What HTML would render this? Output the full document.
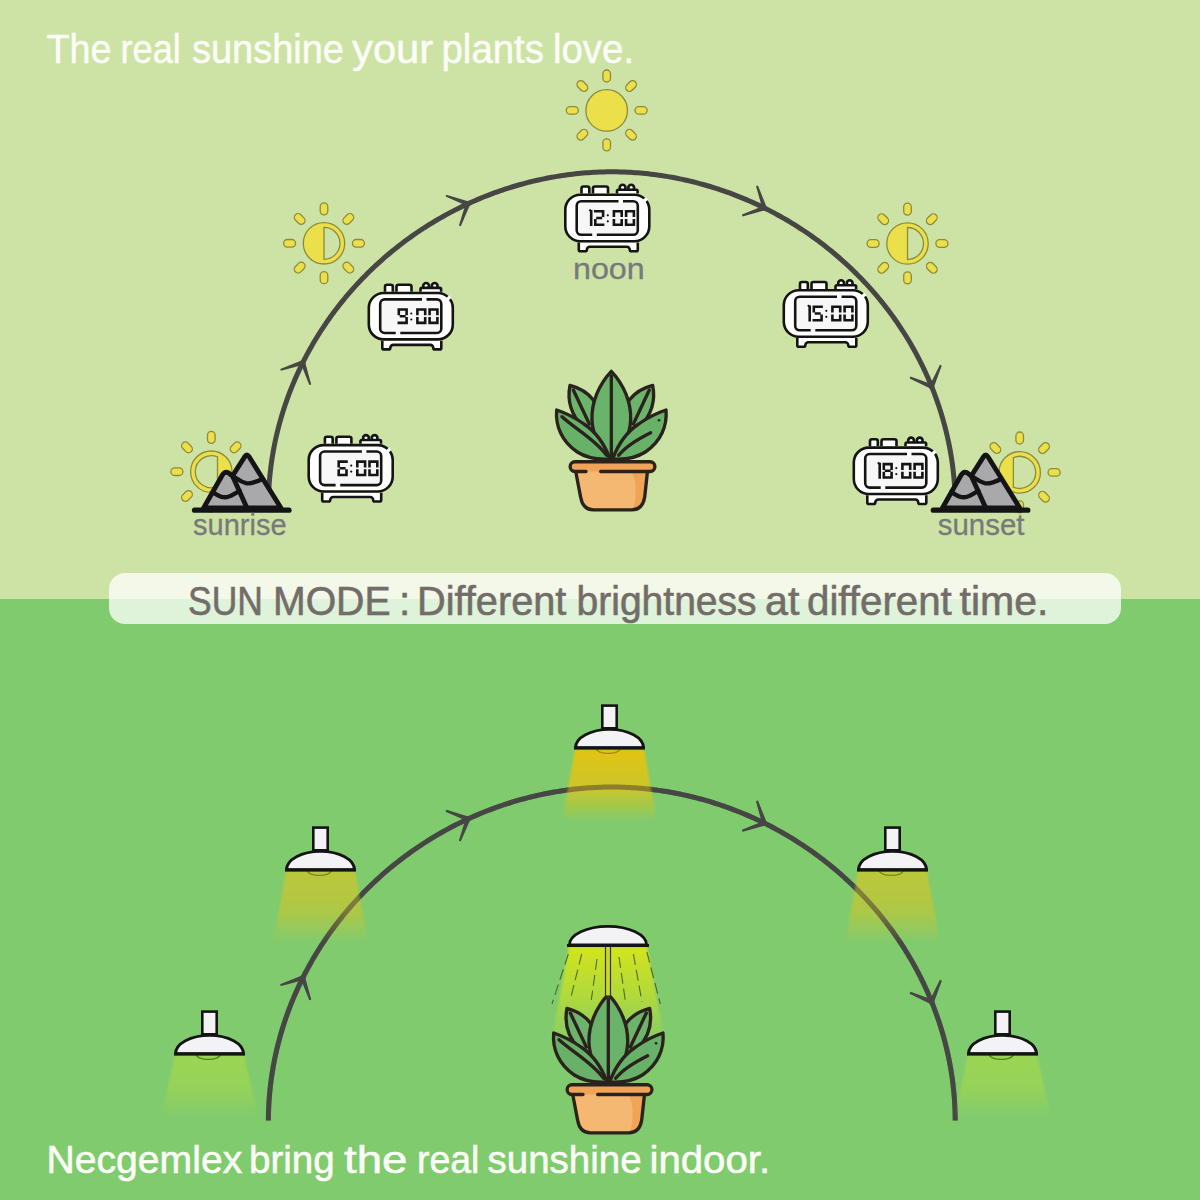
<!DOCTYPE html>
<html><head><meta charset="utf-8"><style>
html,body{margin:0;padding:0;background:#80cb6e;}
svg{display:block;}
</style></head><body>
<svg width="1200" height="1200" viewBox="0 0 1200 1200">
<defs><filter id="soft" x="-20%" y="-20%" width="140%" height="140%"><feGaussianBlur stdDeviation="1.3"/></filter></defs>
<rect x="0" y="0" width="1200" height="599" fill="#cde3a5"/>
<rect x="0" y="599" width="1200" height="601" fill="#80cb6e"/>

<text x="46.50" y="62.6" font-family='"Liberation Sans", sans-serif' font-size="40.5" fill="#fbfdf6" stroke="#fbfdf6" stroke-width="0.5" textLength="65.01" lengthAdjust="spacingAndGlyphs">The</text><text x="120.47" y="62.6" font-family='"Liberation Sans", sans-serif' font-size="40.5" fill="#fbfdf6" stroke="#fbfdf6" stroke-width="0.5" textLength="60.36" lengthAdjust="spacingAndGlyphs">real</text><text x="192.03" y="62.6" font-family='"Liberation Sans", sans-serif' font-size="40.5" fill="#fbfdf6" stroke="#fbfdf6" stroke-width="0.5" textLength="151.95" lengthAdjust="spacingAndGlyphs">sunshine</text><text x="352.00" y="62.6" font-family='"Liberation Sans", sans-serif' font-size="40.5" fill="#fbfdf6" stroke="#fbfdf6" stroke-width="0.5" textLength="81.23" lengthAdjust="spacingAndGlyphs">your</text><text x="441.52" y="62.6" font-family='"Liberation Sans", sans-serif' font-size="40.5" fill="#fbfdf6" stroke="#fbfdf6" stroke-width="0.5" textLength="102.45" lengthAdjust="spacingAndGlyphs">plants</text><text x="552.95" y="62.6" font-family='"Liberation Sans", sans-serif' font-size="40.5" fill="#fbfdf6" stroke="#fbfdf6" stroke-width="0.5" textLength="81.18" lengthAdjust="spacingAndGlyphs">love.</text>
<path d="M268.40,505.30 L268.41,502.87 L268.44,500.38 L268.50,497.88 L268.57,495.36 L268.67,492.84 L268.79,490.30 L268.93,487.77 L269.09,485.22 L269.27,482.68 L269.47,480.13 L269.70,477.58 L269.95,475.02 L270.22,472.47 L270.51,469.91 L270.82,467.36 L271.15,464.80 L271.50,462.25 L271.88,459.69 L272.27,457.14 L272.69,454.58 L273.13,452.03 L273.59,449.48 L274.07,446.93 L274.57,444.38 L275.10,441.84 L275.64,439.29 L276.21,436.75 L276.79,434.22 L277.40,431.68 L278.03,429.15 L278.68,426.62 L279.35,424.10 L280.04,421.58 L280.75,419.07 L281.49,416.55 L282.24,414.05 L283.01,411.55 L283.81,409.05 L284.62,406.56 L285.46,404.07 L286.31,401.59 L287.19,399.11 L288.08,396.64 L289.00,394.18 L289.94,391.72 L290.89,389.27 L291.87,386.82 L292.87,384.38 L293.89,381.95 L294.92,379.53 L295.98,377.11 L297.05,374.70 L298.15,372.30 L299.27,369.90 L300.40,367.52 L301.56,365.14 L302.73,362.77 L303.92,360.40 L305.13,358.05 L306.37,355.70 L307.62,353.37 L308.89,351.04 L310.17,348.72 L311.48,346.41 L312.81,344.11 L314.15,341.82 L315.51,339.54 L316.90,337.27 L318.30,335.01 L319.71,332.76 L321.15,330.52 L322.60,328.29 L324.08,326.07 L325.57,323.87 L327.07,321.67 L328.60,319.48 L330.14,317.31 L331.70,315.14 L333.28,312.99 L334.88,310.85 L336.49,308.73 L338.12,306.61 L339.77,304.51 L341.43,302.41 L343.11,300.33 L344.81,298.27 L346.52,296.21 L348.25,294.17 L350.00,292.14 L351.76,290.13 L353.54,288.13 L355.34,286.14 L357.15,284.16 L358.97,282.20 L360.82,280.25 L362.67,278.32 L364.55,276.40 L366.44,274.49 L368.34,272.60 L370.26,270.72 L372.19,268.86 L374.14,267.01 L376.10,265.18 L378.08,263.36 L380.07,261.55 L382.08,259.76 L384.10,257.99 L386.13,256.23 L388.18,254.49 L390.24,252.76 L392.32,251.05 L394.40,249.35 L396.51,247.67 L398.62,246.01 L400.75,244.36 L402.89,242.73 L405.04,241.11 L407.21,239.51 L409.39,237.93 L411.58,236.36 L413.78,234.81 L416.00,233.28 L418.23,231.76 L420.47,230.26 L422.72,228.78 L424.98,227.32 L427.25,225.87 L429.54,224.44 L431.83,223.03 L434.14,221.63 L436.46,220.26 L438.78,218.90 L441.12,217.56 L443.47,216.23 L445.83,214.93 L448.20,213.64 L450.57,212.37 L452.96,211.12 L455.36,209.89 L457.76,208.67 L460.18,207.48 L462.60,206.30 L465.03,205.14 L467.48,204.00 L469.93,202.88 L472.38,201.78 L474.85,200.69 L477.32,199.63 L479.81,198.58 L482.29,197.56 L484.79,196.55 L487.30,195.56 L489.81,194.60 L492.32,193.65 L494.85,192.72 L497.38,191.81 L499.92,190.92 L502.46,190.05 L505.01,189.20 L507.56,188.36 L510.13,187.55 L512.69,186.76 L515.26,185.99 L517.84,185.24 L520.42,184.51 L523.01,183.80 L525.60,183.11 L528.19,182.43 L530.79,181.78 L533.39,181.15 L536.00,180.54 L538.61,179.95 L541.22,179.38 L543.83,178.83 L546.45,178.30 L549.07,177.80 L551.70,177.31 L554.32,176.84 L556.95,176.39 L559.58,175.97 L562.21,175.56 L564.84,175.18 L567.47,174.81 L570.10,174.47 L572.73,174.15 L575.36,173.84 L578.00,173.56 L580.63,173.30 L583.25,173.06 L585.88,172.84 L588.51,172.65 L591.13,172.47 L593.75,172.31 L596.36,172.18 L598.97,172.06 L601.57,171.97 L604.16,171.89 L606.74,171.84 L609.29,171.81 L611.80,171.80 L614.31,171.81 L616.86,171.84 L619.44,171.89 L622.03,171.97 L624.63,172.06 L627.24,172.18 L629.85,172.31 L632.47,172.47 L635.09,172.65 L637.72,172.84 L640.35,173.06 L642.97,173.30 L645.60,173.56 L648.24,173.84 L650.87,174.15 L653.50,174.47 L656.13,174.81 L658.76,175.18 L661.39,175.56 L664.02,175.97 L666.65,176.39 L669.28,176.84 L671.90,177.31 L674.53,177.80 L677.15,178.30 L679.77,178.83 L682.38,179.38 L684.99,179.95 L687.60,180.54 L690.21,181.15 L692.81,181.78 L695.41,182.43 L698.00,183.11 L700.59,183.80 L703.18,184.51 L705.76,185.24 L708.34,185.99 L710.91,186.76 L713.47,187.55 L716.04,188.36 L718.59,189.20 L721.14,190.05 L723.68,190.92 L726.22,191.81 L728.75,192.72 L731.28,193.65 L733.79,194.60 L736.30,195.56 L738.81,196.55 L741.31,197.56 L743.79,198.58 L746.28,199.63 L748.75,200.69 L751.22,201.78 L753.67,202.88 L756.12,204.00 L758.57,205.14 L761.00,206.30 L763.42,207.48 L765.84,208.67 L768.24,209.89 L770.64,211.12 L773.03,212.37 L775.40,213.64 L777.77,214.93 L780.13,216.23 L782.48,217.56 L784.82,218.90 L787.14,220.26 L789.46,221.63 L791.77,223.03 L794.06,224.44 L796.35,225.87 L798.62,227.32 L800.88,228.78 L803.13,230.26 L805.37,231.76 L807.60,233.28 L809.82,234.81 L812.02,236.36 L814.21,237.93 L816.39,239.51 L818.56,241.11 L820.71,242.73 L822.85,244.36 L824.98,246.01 L827.09,247.67 L829.20,249.35 L831.28,251.05 L833.36,252.76 L835.42,254.49 L837.47,256.23 L839.50,257.99 L841.52,259.76 L843.53,261.55 L845.52,263.36 L847.50,265.18 L849.46,267.01 L851.41,268.86 L853.34,270.72 L855.26,272.60 L857.16,274.49 L859.05,276.40 L860.93,278.32 L862.78,280.25 L864.63,282.20 L866.45,284.16 L868.26,286.14 L870.06,288.13 L871.84,290.13 L873.60,292.14 L875.35,294.17 L877.08,296.21 L878.79,298.27 L880.49,300.33 L882.17,302.41 L883.83,304.51 L885.48,306.61 L887.11,308.73 L888.72,310.85 L890.32,312.99 L891.90,315.14 L893.46,317.31 L895.00,319.48 L896.53,321.67 L898.03,323.87 L899.52,326.07 L901.00,328.29 L902.45,330.52 L903.89,332.76 L905.30,335.01 L906.70,337.27 L908.09,339.54 L909.45,341.82 L910.79,344.11 L912.12,346.41 L913.43,348.72 L914.71,351.04 L915.98,353.37 L917.23,355.70 L918.47,358.05 L919.68,360.40 L920.87,362.77 L922.04,365.14 L923.20,367.52 L924.33,369.90 L925.45,372.30 L926.55,374.70 L927.62,377.11 L928.68,379.53 L929.71,381.95 L930.73,384.38 L931.73,386.82 L932.71,389.27 L933.66,391.72 L934.60,394.18 L935.52,396.64 L936.41,399.11 L937.29,401.59 L938.14,404.07 L938.98,406.56 L939.79,409.05 L940.59,411.55 L941.36,414.05 L942.11,416.55 L942.85,419.07 L943.56,421.58 L944.25,424.10 L944.92,426.62 L945.57,429.15 L946.20,431.68 L946.81,434.22 L947.39,436.75 L947.96,439.29 L948.50,441.84 L949.03,444.38 L949.53,446.93 L950.01,449.48 L950.47,452.03 L950.91,454.58 L951.33,457.14 L951.72,459.69 L952.10,462.25 L952.45,464.80 L952.78,467.36 L953.09,469.91 L953.38,472.47 L953.65,475.02 L953.90,477.58 L954.13,480.13 L954.33,482.68 L954.51,485.22 L954.67,487.77 L954.81,490.30 L954.93,492.84 L955.03,495.36 L955.10,497.88 L955.16,500.38 L955.19,502.87 L955.20,505.30" fill="none" stroke="#464644" stroke-width="5" stroke-linejoin="round"/><path d="M302.14,360.32 L280.25,368.96 L280.88,370.86 L303.59,364.68 Z" fill="#464644"/><path d="M300.68,363.23 L309.32,385.12 L311.22,384.49 L305.04,361.77 Z" fill="#464644"/><circle cx="302.86" cy="362.50" r="2.6" fill="#464644"/><path d="M468.80,201.60 L446.30,194.67 L445.61,196.55 L467.20,205.92 Z" fill="#464644"/><path d="M465.84,202.96 L458.92,225.45 L460.79,226.15 L470.16,204.56 Z" fill="#464644"/><circle cx="468.00" cy="203.76" r="2.6" fill="#464644"/><path d="M766.68,207.27 L757.92,185.42 L756.03,186.06 L762.32,208.74 Z" fill="#464644"/><path d="M763.76,205.83 L741.92,214.59 L742.56,216.48 L765.24,210.19 Z" fill="#464644"/><circle cx="764.50" cy="208.01" r="2.6" fill="#464644"/><path d="M933.80,387.60 L941.77,365.45 L939.93,364.67 L929.56,385.80 Z" fill="#464644"/><path d="M932.58,384.58 L910.43,376.61 L909.65,378.45 L930.78,388.82 Z" fill="#464644"/><circle cx="931.68" cy="386.70" r="2.6" fill="#464644"/>
<rect x="-3.8" y="-40.4" width="7.6" height="12" rx="3.8" ry="3.8" transform="translate(606.7,110.4) rotate(0)" fill="#ebdf4a" stroke="#8d8a3e" stroke-width="1.3"/><rect x="-3.8" y="-40.4" width="7.6" height="12" rx="3.8" ry="3.8" transform="translate(606.7,110.4) rotate(45)" fill="#ebdf4a" stroke="#8d8a3e" stroke-width="1.3"/><rect x="-3.8" y="-40.4" width="7.6" height="12" rx="3.8" ry="3.8" transform="translate(606.7,110.4) rotate(90)" fill="#ebdf4a" stroke="#8d8a3e" stroke-width="1.3"/><rect x="-3.8" y="-40.4" width="7.6" height="12" rx="3.8" ry="3.8" transform="translate(606.7,110.4) rotate(135)" fill="#ebdf4a" stroke="#8d8a3e" stroke-width="1.3"/><rect x="-3.8" y="-40.4" width="7.6" height="12" rx="3.8" ry="3.8" transform="translate(606.7,110.4) rotate(180)" fill="#ebdf4a" stroke="#8d8a3e" stroke-width="1.3"/><rect x="-3.8" y="-40.4" width="7.6" height="12" rx="3.8" ry="3.8" transform="translate(606.7,110.4) rotate(225)" fill="#ebdf4a" stroke="#8d8a3e" stroke-width="1.3"/><rect x="-3.8" y="-40.4" width="7.6" height="12" rx="3.8" ry="3.8" transform="translate(606.7,110.4) rotate(270)" fill="#ebdf4a" stroke="#8d8a3e" stroke-width="1.3"/><rect x="-3.8" y="-40.4" width="7.6" height="12" rx="3.8" ry="3.8" transform="translate(606.7,110.4) rotate(315)" fill="#ebdf4a" stroke="#8d8a3e" stroke-width="1.3"/><circle cx="606.7" cy="110.4" r="20.8" fill="#ebdf4a" stroke="#8d8a3e" stroke-width="1.3"/>
<rect x="-3.8" y="-40.4" width="7.6" height="12" rx="3.8" ry="3.8" transform="translate(324,243.3) rotate(0)" fill="#ebdf4a" stroke="#8d8a3e" stroke-width="1.3"/><rect x="-3.8" y="-40.4" width="7.6" height="12" rx="3.8" ry="3.8" transform="translate(324,243.3) rotate(45)" fill="#ebdf4a" stroke="#8d8a3e" stroke-width="1.3"/><rect x="-3.8" y="-40.4" width="7.6" height="12" rx="3.8" ry="3.8" transform="translate(324,243.3) rotate(90)" fill="#ebdf4a" stroke="#8d8a3e" stroke-width="1.3"/><rect x="-3.8" y="-40.4" width="7.6" height="12" rx="3.8" ry="3.8" transform="translate(324,243.3) rotate(135)" fill="#ebdf4a" stroke="#8d8a3e" stroke-width="1.3"/><rect x="-3.8" y="-40.4" width="7.6" height="12" rx="3.8" ry="3.8" transform="translate(324,243.3) rotate(180)" fill="#ebdf4a" stroke="#8d8a3e" stroke-width="1.3"/><rect x="-3.8" y="-40.4" width="7.6" height="12" rx="3.8" ry="3.8" transform="translate(324,243.3) rotate(225)" fill="#ebdf4a" stroke="#8d8a3e" stroke-width="1.3"/><rect x="-3.8" y="-40.4" width="7.6" height="12" rx="3.8" ry="3.8" transform="translate(324,243.3) rotate(270)" fill="#ebdf4a" stroke="#8d8a3e" stroke-width="1.3"/><rect x="-3.8" y="-40.4" width="7.6" height="12" rx="3.8" ry="3.8" transform="translate(324,243.3) rotate(315)" fill="#ebdf4a" stroke="#8d8a3e" stroke-width="1.3"/><g transform="translate(324,243.3)"><circle cx="0" cy="0" r="20.7" fill="#ebdf4a" stroke="#8d8a3e" stroke-width="1.3"/><path d="M0,-16.00 A16,16 0 0 1 0,16.00 Z" fill="#cde3a5" stroke="#8d8a3e" stroke-width="1.3"/></g>
<rect x="-3.8" y="-40.4" width="7.6" height="12" rx="3.8" ry="3.8" transform="translate(907.5,243.5) rotate(0)" fill="#ebdf4a" stroke="#8d8a3e" stroke-width="1.3"/><rect x="-3.8" y="-40.4" width="7.6" height="12" rx="3.8" ry="3.8" transform="translate(907.5,243.5) rotate(45)" fill="#ebdf4a" stroke="#8d8a3e" stroke-width="1.3"/><rect x="-3.8" y="-40.4" width="7.6" height="12" rx="3.8" ry="3.8" transform="translate(907.5,243.5) rotate(90)" fill="#ebdf4a" stroke="#8d8a3e" stroke-width="1.3"/><rect x="-3.8" y="-40.4" width="7.6" height="12" rx="3.8" ry="3.8" transform="translate(907.5,243.5) rotate(135)" fill="#ebdf4a" stroke="#8d8a3e" stroke-width="1.3"/><rect x="-3.8" y="-40.4" width="7.6" height="12" rx="3.8" ry="3.8" transform="translate(907.5,243.5) rotate(180)" fill="#ebdf4a" stroke="#8d8a3e" stroke-width="1.3"/><rect x="-3.8" y="-40.4" width="7.6" height="12" rx="3.8" ry="3.8" transform="translate(907.5,243.5) rotate(225)" fill="#ebdf4a" stroke="#8d8a3e" stroke-width="1.3"/><rect x="-3.8" y="-40.4" width="7.6" height="12" rx="3.8" ry="3.8" transform="translate(907.5,243.5) rotate(270)" fill="#ebdf4a" stroke="#8d8a3e" stroke-width="1.3"/><rect x="-3.8" y="-40.4" width="7.6" height="12" rx="3.8" ry="3.8" transform="translate(907.5,243.5) rotate(315)" fill="#ebdf4a" stroke="#8d8a3e" stroke-width="1.3"/><g transform="translate(907.5,243.5)"><circle cx="0" cy="0" r="20.7" fill="#ebdf4a" stroke="#8d8a3e" stroke-width="1.3"/><path d="M0,-16.00 A16,16 0 0 1 0,16.00 Z" fill="#cde3a5" stroke="#8d8a3e" stroke-width="1.3"/></g>
<rect x="-3.8" y="-40.4" width="7.6" height="12" rx="3.8" ry="3.8" transform="translate(211.3,471.7) rotate(0)" fill="#ebdf4a" stroke="#8d8a3e" stroke-width="1.3"/><rect x="-3.8" y="-40.4" width="7.6" height="12" rx="3.8" ry="3.8" transform="translate(211.3,471.7) rotate(45)" fill="#ebdf4a" stroke="#8d8a3e" stroke-width="1.3"/><rect x="-3.8" y="-40.4" width="7.6" height="12" rx="3.8" ry="3.8" transform="translate(211.3,471.7) rotate(90)" fill="#ebdf4a" stroke="#8d8a3e" stroke-width="1.3"/><rect x="-3.8" y="-40.4" width="7.6" height="12" rx="3.8" ry="3.8" transform="translate(211.3,471.7) rotate(135)" fill="#ebdf4a" stroke="#8d8a3e" stroke-width="1.3"/><rect x="-3.8" y="-40.4" width="7.6" height="12" rx="3.8" ry="3.8" transform="translate(211.3,471.7) rotate(180)" fill="#ebdf4a" stroke="#8d8a3e" stroke-width="1.3"/><rect x="-3.8" y="-40.4" width="7.6" height="12" rx="3.8" ry="3.8" transform="translate(211.3,471.7) rotate(225)" fill="#ebdf4a" stroke="#8d8a3e" stroke-width="1.3"/><rect x="-3.8" y="-40.4" width="7.6" height="12" rx="3.8" ry="3.8" transform="translate(211.3,471.7) rotate(270)" fill="#ebdf4a" stroke="#8d8a3e" stroke-width="1.3"/><rect x="-3.8" y="-40.4" width="7.6" height="12" rx="3.8" ry="3.8" transform="translate(211.3,471.7) rotate(315)" fill="#ebdf4a" stroke="#8d8a3e" stroke-width="1.3"/><g transform="translate(211.3,471.7) scale(-1,1)"><circle cx="0" cy="0" r="20.7" fill="#ebdf4a" stroke="#8d8a3e" stroke-width="1.3"/><path d="M-6.2,-14.75 A16,16 0 1 1 -6.2,14.75 Z" fill="#cde3a5" stroke="#8d8a3e" stroke-width="1.3"/></g>
<rect x="-3.8" y="-40.4" width="7.6" height="12" rx="3.8" ry="3.8" transform="translate(1019.7,472.4) rotate(0)" fill="#ebdf4a" stroke="#8d8a3e" stroke-width="1.3"/><rect x="-3.8" y="-40.4" width="7.6" height="12" rx="3.8" ry="3.8" transform="translate(1019.7,472.4) rotate(45)" fill="#ebdf4a" stroke="#8d8a3e" stroke-width="1.3"/><rect x="-3.8" y="-40.4" width="7.6" height="12" rx="3.8" ry="3.8" transform="translate(1019.7,472.4) rotate(90)" fill="#ebdf4a" stroke="#8d8a3e" stroke-width="1.3"/><rect x="-3.8" y="-40.4" width="7.6" height="12" rx="3.8" ry="3.8" transform="translate(1019.7,472.4) rotate(135)" fill="#ebdf4a" stroke="#8d8a3e" stroke-width="1.3"/><rect x="-3.8" y="-40.4" width="7.6" height="12" rx="3.8" ry="3.8" transform="translate(1019.7,472.4) rotate(180)" fill="#ebdf4a" stroke="#8d8a3e" stroke-width="1.3"/><rect x="-3.8" y="-40.4" width="7.6" height="12" rx="3.8" ry="3.8" transform="translate(1019.7,472.4) rotate(225)" fill="#ebdf4a" stroke="#8d8a3e" stroke-width="1.3"/><rect x="-3.8" y="-40.4" width="7.6" height="12" rx="3.8" ry="3.8" transform="translate(1019.7,472.4) rotate(270)" fill="#ebdf4a" stroke="#8d8a3e" stroke-width="1.3"/><rect x="-3.8" y="-40.4" width="7.6" height="12" rx="3.8" ry="3.8" transform="translate(1019.7,472.4) rotate(315)" fill="#ebdf4a" stroke="#8d8a3e" stroke-width="1.3"/><g transform="translate(1019.7,472.4)"><circle cx="0" cy="0" r="20.7" fill="#ebdf4a" stroke="#8d8a3e" stroke-width="1.3"/><path d="M-6.3,-14.71 A16,16 0 1 1 -6.3,14.71 Z" fill="#cde3a5" stroke="#8d8a3e" stroke-width="1.3"/></g>
<g transform="translate(0.0,0.0)" stroke="#141414" stroke-width="4.8" stroke-linejoin="round" stroke-linecap="round" fill="#a9a9ab"><path d="M212,508 L244.8,456.6 Q246.9,453.4 249,456.6 L281,508 Z"/><path d="M203.6,508 L222.5,474.8 Q225,470.8 228.5,472.8 L232.6,476.2 L247,508 Z"/><path d="M212.5,492 C216.5,494.5 220,497.3 225,497.3 C230,497.3 234,493.5 239.7,491" fill="none" stroke-width="4.4"/><path d="M234,476.8 C237,478.5 240,481.7 246,483.2 C251,484.2 256,482 262.4,478.9" fill="none" stroke-width="4.4"/><path d="M194.5,510.2 H289" stroke-width="5.2"/></g>
<g transform="translate(738.8,0.0)" stroke="#141414" stroke-width="4.8" stroke-linejoin="round" stroke-linecap="round" fill="#a9a9ab"><path d="M212,508 L244.8,456.6 Q246.9,453.4 249,456.6 L281,508 Z"/><path d="M203.6,508 L222.5,474.8 Q225,470.8 228.5,472.8 L232.6,476.2 L247,508 Z"/><path d="M212.5,492 C216.5,494.5 220,497.3 225,497.3 C230,497.3 234,493.5 239.7,491" fill="none" stroke-width="4.4"/><path d="M234,476.8 C237,478.5 240,481.7 246,483.2 C251,484.2 256,482 262.4,478.9" fill="none" stroke-width="4.4"/><path d="M194.5,510.2 H289" stroke-width="5.2"/></g>
<g transform="translate(564.0,193.5)"><path d="M17.5,0 V-5 a2,2 0 0 1 2,-2 h3.8 a2,2 0 0 1 2,2 V0" fill="#fff" stroke="#141414" stroke-width="2.6"/><path d="M29,0 V-5 a2,2 0 0 1 2,-2 h11 a2,2 0 0 1 2,2 V0" fill="#fff" stroke="#141414" stroke-width="2.6"/><circle cx="58.6" cy="-5.8" r="2.9" fill="#fff" stroke="#141414" stroke-width="2.6"/><circle cx="67.2" cy="-5.8" r="2.9" fill="#fff" stroke="#141414" stroke-width="2.6"/><path d="M53,0 V-2.6 a1.2,1.2 0 0 1 1.2,-1.2 h18.2 a1.2,1.2 0 0 1 1.2,1.2 V0" fill="#fff" stroke="#141414" stroke-width="2.6"/><path d="M14.8,49 V56.2 a1.5,1.5 0 0 0 1.5,1.5 h5 a1.5,1.5 0 0 0 1.5,-1.5 a3,3 0 0 1 3,-3 h37 a3,3 0 0 1 3,3 a1.5,1.5 0 0 0 1.5,1.5 h5 a1.5,1.5 0 0 0 1.5,-1.5 V49" fill="#fff" stroke="#141414" stroke-width="2.6" stroke-linejoin="round"/><rect x="1.3" y="1.3" width="84.0" height="46.4" rx="15" ry="15" fill="#fff" stroke="#141414" stroke-width="2.6"/><path d="M79.9,7.6 L82.9,4.9" stroke="#fff" stroke-width="3.4"/><rect x="12.7" y="7.7" width="61.1" height="33.6" rx="4.5" fill="#f7f7f7" stroke="#141414" stroke-width="2.6"/><rect x="54.5" y="5.5" width="4.5" height="4.5" fill="#fff"/><rect x="28.2" y="39.2" width="4.6" height="4.5" fill="#f7f7f7"/><g fill="none" stroke="#141414" stroke-width="2.6" stroke-linecap="butt"><path d="M27.20,16.50 V32.50 M25.40,17.70 L27.20,16.50" /><path d="M30.00,17.80 L40.40,17.80 M32.20,24.50 L38.20,24.50 M30.00,31.20 L40.40,31.20 M39.10,17.80 L39.10,23.60 M31.30,25.40 L31.30,31.20"/><circle cx="43.8" cy="21.8" r="1.1" fill="#141414" stroke="none"/><circle cx="43.8" cy="27.8" r="1.1" fill="#141414" stroke="none"/><path d="M48.60,17.80 L59.00,17.80 M48.60,31.20 L59.00,31.20 M49.90,17.80 L49.90,23.60 M57.70,17.80 L57.70,23.60 M49.90,25.40 L49.90,31.20 M57.70,25.40 L57.70,31.20"/><path d="M60.80,17.80 L71.20,17.80 M60.80,31.20 L71.20,31.20 M62.10,17.80 L62.10,23.60 M69.90,17.80 L69.90,23.60 M62.10,25.40 L62.10,31.20 M69.90,25.40 L69.90,31.20"/></g></g>
<g transform="translate(367.5,291.7)"><path d="M17.5,0 V-5 a2,2 0 0 1 2,-2 h3.8 a2,2 0 0 1 2,2 V0" fill="#fff" stroke="#141414" stroke-width="2.6"/><path d="M29,0 V-5 a2,2 0 0 1 2,-2 h11 a2,2 0 0 1 2,2 V0" fill="#fff" stroke="#141414" stroke-width="2.6"/><circle cx="58.6" cy="-5.8" r="2.9" fill="#fff" stroke="#141414" stroke-width="2.6"/><circle cx="67.2" cy="-5.8" r="2.9" fill="#fff" stroke="#141414" stroke-width="2.6"/><path d="M53,0 V-2.6 a1.2,1.2 0 0 1 1.2,-1.2 h18.2 a1.2,1.2 0 0 1 1.2,1.2 V0" fill="#fff" stroke="#141414" stroke-width="2.6"/><path d="M14.8,49 V56.2 a1.5,1.5 0 0 0 1.5,1.5 h5 a1.5,1.5 0 0 0 1.5,-1.5 a3,3 0 0 1 3,-3 h37 a3,3 0 0 1 3,3 a1.5,1.5 0 0 0 1.5,1.5 h5 a1.5,1.5 0 0 0 1.5,-1.5 V49" fill="#fff" stroke="#141414" stroke-width="2.6" stroke-linejoin="round"/><rect x="1.3" y="1.3" width="84.0" height="46.4" rx="15" ry="15" fill="#fff" stroke="#141414" stroke-width="2.6"/><path d="M79.9,7.6 L82.9,4.9" stroke="#fff" stroke-width="3.4"/><rect x="12.7" y="7.7" width="61.1" height="33.6" rx="4.5" fill="#f7f7f7" stroke="#141414" stroke-width="2.6"/><rect x="54.5" y="5.5" width="4.5" height="4.5" fill="#fff"/><rect x="28.2" y="39.2" width="4.6" height="4.5" fill="#f7f7f7"/><g fill="none" stroke="#141414" stroke-width="2.6" stroke-linecap="butt"><path d="M30.00,17.80 L40.40,17.80 M32.20,24.50 L38.20,24.50 M30.00,31.20 L40.40,31.20 M31.30,17.80 L31.30,23.60 M39.10,17.80 L39.10,23.60 M39.10,25.40 L39.10,31.20"/><circle cx="43.8" cy="21.8" r="1.1" fill="#141414" stroke="none"/><circle cx="43.8" cy="27.8" r="1.1" fill="#141414" stroke="none"/><path d="M48.60,17.80 L59.00,17.80 M48.60,31.20 L59.00,31.20 M49.90,17.80 L49.90,23.60 M57.70,17.80 L57.70,23.60 M49.90,25.40 L49.90,31.20 M57.70,25.40 L57.70,31.20"/><path d="M60.80,17.80 L71.20,17.80 M60.80,31.20 L71.20,31.20 M62.10,17.80 L62.10,23.60 M69.90,17.80 L69.90,23.60 M62.10,25.40 L62.10,31.20 M69.90,25.40 L69.90,31.20"/></g></g>
<g transform="translate(307.4,443.8)"><path d="M17.5,0 V-5 a2,2 0 0 1 2,-2 h3.8 a2,2 0 0 1 2,2 V0" fill="#fff" stroke="#141414" stroke-width="2.6"/><path d="M29,0 V-5 a2,2 0 0 1 2,-2 h11 a2,2 0 0 1 2,2 V0" fill="#fff" stroke="#141414" stroke-width="2.6"/><circle cx="58.6" cy="-5.8" r="2.9" fill="#fff" stroke="#141414" stroke-width="2.6"/><circle cx="67.2" cy="-5.8" r="2.9" fill="#fff" stroke="#141414" stroke-width="2.6"/><path d="M53,0 V-2.6 a1.2,1.2 0 0 1 1.2,-1.2 h18.2 a1.2,1.2 0 0 1 1.2,1.2 V0" fill="#fff" stroke="#141414" stroke-width="2.6"/><path d="M14.8,49 V56.2 a1.5,1.5 0 0 0 1.5,1.5 h5 a1.5,1.5 0 0 0 1.5,-1.5 a3,3 0 0 1 3,-3 h37 a3,3 0 0 1 3,3 a1.5,1.5 0 0 0 1.5,1.5 h5 a1.5,1.5 0 0 0 1.5,-1.5 V49" fill="#fff" stroke="#141414" stroke-width="2.6" stroke-linejoin="round"/><rect x="1.3" y="1.3" width="84.0" height="46.4" rx="15" ry="15" fill="#fff" stroke="#141414" stroke-width="2.6"/><path d="M79.9,7.6 L82.9,4.9" stroke="#fff" stroke-width="3.4"/><rect x="12.7" y="7.7" width="61.1" height="33.6" rx="4.5" fill="#f7f7f7" stroke="#141414" stroke-width="2.6"/><rect x="54.5" y="5.5" width="4.5" height="4.5" fill="#fff"/><rect x="28.2" y="39.2" width="4.6" height="4.5" fill="#f7f7f7"/><g fill="none" stroke="#141414" stroke-width="2.6" stroke-linecap="butt"><path d="M30.00,17.80 L40.40,17.80 M32.20,24.50 L38.20,24.50 M30.00,31.20 L40.40,31.20 M31.30,17.80 L31.30,23.60 M31.30,25.40 L31.30,31.20 M39.10,25.40 L39.10,31.20"/><circle cx="43.8" cy="21.8" r="1.1" fill="#141414" stroke="none"/><circle cx="43.8" cy="27.8" r="1.1" fill="#141414" stroke="none"/><path d="M48.60,17.80 L59.00,17.80 M48.60,31.20 L59.00,31.20 M49.90,17.80 L49.90,23.60 M57.70,17.80 L57.70,23.60 M49.90,25.40 L49.90,31.20 M57.70,25.40 L57.70,31.20"/><path d="M60.80,17.80 L71.20,17.80 M60.80,31.20 L71.20,31.20 M62.10,17.80 L62.10,23.60 M69.90,17.80 L69.90,23.60 M62.10,25.40 L62.10,31.20 M69.90,25.40 L69.90,31.20"/></g></g>
<g transform="translate(782.5,289.0)"><path d="M17.5,0 V-5 a2,2 0 0 1 2,-2 h3.8 a2,2 0 0 1 2,2 V0" fill="#fff" stroke="#141414" stroke-width="2.6"/><path d="M29,0 V-5 a2,2 0 0 1 2,-2 h11 a2,2 0 0 1 2,2 V0" fill="#fff" stroke="#141414" stroke-width="2.6"/><circle cx="58.6" cy="-5.8" r="2.9" fill="#fff" stroke="#141414" stroke-width="2.6"/><circle cx="67.2" cy="-5.8" r="2.9" fill="#fff" stroke="#141414" stroke-width="2.6"/><path d="M53,0 V-2.6 a1.2,1.2 0 0 1 1.2,-1.2 h18.2 a1.2,1.2 0 0 1 1.2,1.2 V0" fill="#fff" stroke="#141414" stroke-width="2.6"/><path d="M14.8,49 V56.2 a1.5,1.5 0 0 0 1.5,1.5 h5 a1.5,1.5 0 0 0 1.5,-1.5 a3,3 0 0 1 3,-3 h37 a3,3 0 0 1 3,3 a1.5,1.5 0 0 0 1.5,1.5 h5 a1.5,1.5 0 0 0 1.5,-1.5 V49" fill="#fff" stroke="#141414" stroke-width="2.6" stroke-linejoin="round"/><rect x="1.3" y="1.3" width="84.0" height="46.4" rx="15" ry="15" fill="#fff" stroke="#141414" stroke-width="2.6"/><path d="M79.9,7.6 L82.9,4.9" stroke="#fff" stroke-width="3.4"/><rect x="12.7" y="7.7" width="61.1" height="33.6" rx="4.5" fill="#f7f7f7" stroke="#141414" stroke-width="2.6"/><rect x="54.5" y="5.5" width="4.5" height="4.5" fill="#fff"/><rect x="28.2" y="39.2" width="4.6" height="4.5" fill="#f7f7f7"/><g fill="none" stroke="#141414" stroke-width="2.6" stroke-linecap="butt"><path d="M27.20,16.50 V32.50 M25.40,17.70 L27.20,16.50" /><path d="M30.00,17.80 L40.40,17.80 M32.20,24.50 L38.20,24.50 M30.00,31.20 L40.40,31.20 M31.30,17.80 L31.30,23.60 M39.10,25.40 L39.10,31.20"/><circle cx="43.8" cy="21.8" r="1.1" fill="#141414" stroke="none"/><circle cx="43.8" cy="27.8" r="1.1" fill="#141414" stroke="none"/><path d="M48.60,17.80 L59.00,17.80 M48.60,31.20 L59.00,31.20 M49.90,17.80 L49.90,23.60 M57.70,17.80 L57.70,23.60 M49.90,25.40 L49.90,31.20 M57.70,25.40 L57.70,31.20"/><path d="M60.80,17.80 L71.20,17.80 M60.80,31.20 L71.20,31.20 M62.10,17.80 L62.10,23.60 M69.90,17.80 L69.90,23.60 M62.10,25.40 L62.10,31.20 M69.90,25.40 L69.90,31.20"/></g></g>
<g transform="translate(852.5,446.3)"><path d="M17.5,0 V-5 a2,2 0 0 1 2,-2 h3.8 a2,2 0 0 1 2,2 V0" fill="#fff" stroke="#141414" stroke-width="2.6"/><path d="M29,0 V-5 a2,2 0 0 1 2,-2 h11 a2,2 0 0 1 2,2 V0" fill="#fff" stroke="#141414" stroke-width="2.6"/><circle cx="58.6" cy="-5.8" r="2.9" fill="#fff" stroke="#141414" stroke-width="2.6"/><circle cx="67.2" cy="-5.8" r="2.9" fill="#fff" stroke="#141414" stroke-width="2.6"/><path d="M53,0 V-2.6 a1.2,1.2 0 0 1 1.2,-1.2 h18.2 a1.2,1.2 0 0 1 1.2,1.2 V0" fill="#fff" stroke="#141414" stroke-width="2.6"/><path d="M14.8,49 V56.2 a1.5,1.5 0 0 0 1.5,1.5 h5 a1.5,1.5 0 0 0 1.5,-1.5 a3,3 0 0 1 3,-3 h37 a3,3 0 0 1 3,3 a1.5,1.5 0 0 0 1.5,1.5 h5 a1.5,1.5 0 0 0 1.5,-1.5 V49" fill="#fff" stroke="#141414" stroke-width="2.6" stroke-linejoin="round"/><rect x="1.3" y="1.3" width="84.0" height="46.4" rx="15" ry="15" fill="#fff" stroke="#141414" stroke-width="2.6"/><path d="M79.9,7.6 L82.9,4.9" stroke="#fff" stroke-width="3.4"/><rect x="12.7" y="7.7" width="61.1" height="33.6" rx="4.5" fill="#f7f7f7" stroke="#141414" stroke-width="2.6"/><rect x="54.5" y="5.5" width="4.5" height="4.5" fill="#fff"/><rect x="28.2" y="39.2" width="4.6" height="4.5" fill="#f7f7f7"/><g fill="none" stroke="#141414" stroke-width="2.6" stroke-linecap="butt"><path d="M27.20,16.50 V32.50 M25.40,17.70 L27.20,16.50" /><path d="M30.00,17.80 L40.40,17.80 M32.20,24.50 L38.20,24.50 M30.00,31.20 L40.40,31.20 M31.30,17.80 L31.30,23.60 M39.10,17.80 L39.10,23.60 M31.30,25.40 L31.30,31.20 M39.10,25.40 L39.10,31.20"/><circle cx="43.8" cy="21.8" r="1.1" fill="#141414" stroke="none"/><circle cx="43.8" cy="27.8" r="1.1" fill="#141414" stroke="none"/><path d="M48.60,17.80 L59.00,17.80 M48.60,31.20 L59.00,31.20 M49.90,17.80 L49.90,23.60 M57.70,17.80 L57.70,23.60 M49.90,25.40 L49.90,31.20 M57.70,25.40 L57.70,31.20"/><path d="M60.80,17.80 L71.20,17.80 M60.80,31.20 L71.20,31.20 M62.10,17.80 L62.10,23.60 M69.90,17.80 L69.90,23.60 M62.10,25.40 L62.10,31.20 M69.90,25.40 L69.90,31.20"/></g></g>
<text x="572.97" y="279" font-family='"Liberation Sans", sans-serif' font-size="30" fill="#78797a" stroke="#78797a" stroke-width="0.3" textLength="71.78" lengthAdjust="spacingAndGlyphs">noon</text>
<text x="193.00" y="534.5" font-family='"Liberation Sans", sans-serif' font-size="29.5" fill="#78797a" stroke="#78797a" stroke-width="0.3" textLength="93.65" lengthAdjust="spacingAndGlyphs">sunrise</text>
<text x="937.75" y="534.5" font-family='"Liberation Sans", sans-serif' font-size="29.5" fill="#78797a" stroke="#78797a" stroke-width="0.3" textLength="86.68" lengthAdjust="spacingAndGlyphs">sunset</text>
<g transform="translate(540,360) scale(0.13333)" stroke="#2a221d" stroke-width="25" stroke-linejoin="round" stroke-linecap="round"><path d="M225,190 C205,290 225,400 320,500 L520,720 C490,540 440,380 400,300 C350,235 285,205 225,190 Z" fill="#6cb46b"/><path d="M250,225 L370,480" fill="none"/><g transform="translate(1070,0) scale(-1,1)"><path d="M225,190 C205,290 225,400 320,500 L520,720 C490,540 440,380 400,300 C350,235 285,205 225,190 Z" fill="#6cb46b"/><path d="M250,225 L370,480" fill="none"/></g><path d="M535,85 C440,185 385,320 390,450 C395,580 470,680 535,740 C600,680 675,580 680,450 C685,320 630,185 535,85 Z" fill="#6ab36a"/><path d="M535,120 L535,740" fill="none"/><path d="M125,375 C115,490 160,610 280,690 C350,735 440,748 525,742 C480,620 420,540 330,480 C260,430 185,395 125,375 Z" fill="#68b168"/><path d="M165,425 C270,520 420,600 500,715" fill="none"/><path d="M945,375 C955,490 910,610 790,690 C720,735 630,748 545,742 C590,620 650,540 740,480 C810,430 885,395 945,375 Z" fill="#68b168"/><path d="M830,545 C740,590 640,650 590,715" fill="none"/><circle cx="893" cy="452" r="10" fill="#2a221d" stroke="none"/><path d="M266,812 L268,836 L305,1030 C315,1090 340,1124 400,1124 L690,1124 C750,1124 775,1090 785,1030 L806,836 L808,812 Z" fill="#f5b873" stroke="none"/><path d="M690,845 L800,845 L780,1030 C772,1080 752,1108 700,1112 C730,1000 720,900 690,845 Z" fill="#eea253" stroke="none" opacity="0.9"/><path d="M268,836 L305,1030 C315,1090 340,1124 400,1124 L690,1124 C750,1124 775,1090 785,1030 L806,836" fill="none"/><rect x="226" y="763" width="636" height="73" rx="36.5" ry="36.5" fill="#f0a458" stroke="none"/><path d="M345,836 H262.5 A36.5,36.5 0 0 1 262.5,763 H825.5 A36.5,36.5 0 0 1 825.5,836 H455" fill="none"/></g>
<rect x="109" y="573" width="1012" height="51" rx="16" ry="16" fill="#ffffff" fill-opacity="0.75"/>
<text x="188.00" y="614.6" font-family='"Liberation Sans", sans-serif' font-size="40.5" fill="#736d69" stroke="#736d69" stroke-width="0.6" textLength="74.88" lengthAdjust="spacingAndGlyphs">SUN</text><text x="273.03" y="614.6" font-family='"Liberation Sans", sans-serif' font-size="40.5" fill="#736d69" stroke="#736d69" stroke-width="0.6" textLength="117.53" lengthAdjust="spacingAndGlyphs">MODE</text><text x="399.00" y="614.6" font-family='"Liberation Sans", sans-serif' font-size="40.5" fill="#736d69" stroke="#736d69" stroke-width="0.6">:</text><text x="417.06" y="614.6" font-family='"Liberation Sans", sans-serif' font-size="40.5" fill="#736d69" stroke="#736d69" stroke-width="0.6" textLength="149.32" lengthAdjust="spacingAndGlyphs">Different</text><text x="576.55" y="614.6" font-family='"Liberation Sans", sans-serif' font-size="40.5" fill="#736d69" stroke="#736d69" stroke-width="0.6" textLength="180.02" lengthAdjust="spacingAndGlyphs">brightness</text><text x="765.03" y="614.6" font-family='"Liberation Sans", sans-serif' font-size="40.5" fill="#736d69" stroke="#736d69" stroke-width="0.6" textLength="34.35" lengthAdjust="spacingAndGlyphs">at</text><text x="807.03" y="614.6" font-family='"Liberation Sans", sans-serif' font-size="40.5" fill="#736d69" stroke="#736d69" stroke-width="0.6" textLength="144.73" lengthAdjust="spacingAndGlyphs">different</text><text x="959.50" y="614.6" font-family='"Liberation Sans", sans-serif' font-size="40.5" fill="#736d69" stroke="#736d69" stroke-width="0.6" textLength="88.92" lengthAdjust="spacingAndGlyphs">time.</text>
<path d="M268.40,1120.50 L268.41,1118.07 L268.44,1115.58 L268.50,1113.08 L268.57,1110.56 L268.67,1108.04 L268.79,1105.50 L268.93,1102.97 L269.09,1100.42 L269.27,1097.88 L269.47,1095.33 L269.70,1092.78 L269.95,1090.22 L270.22,1087.67 L270.51,1085.11 L270.82,1082.56 L271.15,1080.00 L271.50,1077.45 L271.88,1074.89 L272.27,1072.34 L272.69,1069.78 L273.13,1067.23 L273.59,1064.68 L274.07,1062.13 L274.57,1059.58 L275.10,1057.04 L275.64,1054.49 L276.21,1051.95 L276.79,1049.42 L277.40,1046.88 L278.03,1044.35 L278.68,1041.82 L279.35,1039.30 L280.04,1036.78 L280.75,1034.27 L281.49,1031.75 L282.24,1029.25 L283.01,1026.75 L283.81,1024.25 L284.62,1021.76 L285.46,1019.27 L286.31,1016.79 L287.19,1014.31 L288.08,1011.84 L289.00,1009.38 L289.94,1006.92 L290.89,1004.47 L291.87,1002.02 L292.87,999.58 L293.89,997.15 L294.92,994.73 L295.98,992.31 L297.05,989.90 L298.15,987.50 L299.27,985.10 L300.40,982.72 L301.56,980.34 L302.73,977.97 L303.92,975.60 L305.13,973.25 L306.37,970.90 L307.62,968.57 L308.89,966.24 L310.17,963.92 L311.48,961.61 L312.81,959.31 L314.15,957.02 L315.51,954.74 L316.90,952.47 L318.30,950.21 L319.71,947.96 L321.15,945.72 L322.60,943.49 L324.08,941.27 L325.57,939.07 L327.07,936.87 L328.60,934.68 L330.14,932.51 L331.70,930.34 L333.28,928.19 L334.88,926.05 L336.49,923.93 L338.12,921.81 L339.77,919.71 L341.43,917.61 L343.11,915.53 L344.81,913.47 L346.52,911.41 L348.25,909.37 L350.00,907.34 L351.76,905.33 L353.54,903.33 L355.34,901.34 L357.15,899.36 L358.97,897.40 L360.82,895.45 L362.67,893.52 L364.55,891.60 L366.44,889.69 L368.34,887.80 L370.26,885.92 L372.19,884.06 L374.14,882.21 L376.10,880.38 L378.08,878.56 L380.07,876.75 L382.08,874.96 L384.10,873.19 L386.13,871.43 L388.18,869.69 L390.24,867.96 L392.32,866.25 L394.40,864.55 L396.51,862.87 L398.62,861.21 L400.75,859.56 L402.89,857.93 L405.04,856.31 L407.21,854.71 L409.39,853.13 L411.58,851.56 L413.78,850.01 L416.00,848.48 L418.23,846.96 L420.47,845.46 L422.72,843.98 L424.98,842.52 L427.25,841.07 L429.54,839.64 L431.83,838.23 L434.14,836.83 L436.46,835.46 L438.78,834.10 L441.12,832.76 L443.47,831.43 L445.83,830.13 L448.20,828.84 L450.57,827.57 L452.96,826.32 L455.36,825.09 L457.76,823.87 L460.18,822.68 L462.60,821.50 L465.03,820.34 L467.48,819.20 L469.93,818.08 L472.38,816.98 L474.85,815.89 L477.32,814.83 L479.81,813.78 L482.29,812.76 L484.79,811.75 L487.30,810.76 L489.81,809.80 L492.32,808.85 L494.85,807.92 L497.38,807.01 L499.92,806.12 L502.46,805.25 L505.01,804.40 L507.56,803.56 L510.13,802.75 L512.69,801.96 L515.26,801.19 L517.84,800.44 L520.42,799.71 L523.01,799.00 L525.60,798.31 L528.19,797.63 L530.79,796.98 L533.39,796.35 L536.00,795.74 L538.61,795.15 L541.22,794.58 L543.83,794.03 L546.45,793.50 L549.07,793.00 L551.70,792.51 L554.32,792.04 L556.95,791.59 L559.58,791.17 L562.21,790.76 L564.84,790.38 L567.47,790.01 L570.10,789.67 L572.73,789.35 L575.36,789.04 L578.00,788.76 L580.63,788.50 L583.25,788.26 L585.88,788.04 L588.51,787.85 L591.13,787.67 L593.75,787.51 L596.36,787.38 L598.97,787.26 L601.57,787.17 L604.16,787.09 L606.74,787.04 L609.29,787.01 L611.80,787.00 L614.31,787.01 L616.86,787.04 L619.44,787.09 L622.03,787.17 L624.63,787.26 L627.24,787.38 L629.85,787.51 L632.47,787.67 L635.09,787.85 L637.72,788.04 L640.35,788.26 L642.97,788.50 L645.60,788.76 L648.24,789.04 L650.87,789.35 L653.50,789.67 L656.13,790.01 L658.76,790.38 L661.39,790.76 L664.02,791.17 L666.65,791.59 L669.28,792.04 L671.90,792.51 L674.53,793.00 L677.15,793.50 L679.77,794.03 L682.38,794.58 L684.99,795.15 L687.60,795.74 L690.21,796.35 L692.81,796.98 L695.41,797.63 L698.00,798.31 L700.59,799.00 L703.18,799.71 L705.76,800.44 L708.34,801.19 L710.91,801.96 L713.47,802.75 L716.04,803.56 L718.59,804.40 L721.14,805.25 L723.68,806.12 L726.22,807.01 L728.75,807.92 L731.28,808.85 L733.79,809.80 L736.30,810.76 L738.81,811.75 L741.31,812.76 L743.79,813.78 L746.28,814.83 L748.75,815.89 L751.22,816.98 L753.67,818.08 L756.12,819.20 L758.57,820.34 L761.00,821.50 L763.42,822.68 L765.84,823.87 L768.24,825.09 L770.64,826.32 L773.03,827.57 L775.40,828.84 L777.77,830.13 L780.13,831.43 L782.48,832.76 L784.82,834.10 L787.14,835.46 L789.46,836.83 L791.77,838.23 L794.06,839.64 L796.35,841.07 L798.62,842.52 L800.88,843.98 L803.13,845.46 L805.37,846.96 L807.60,848.48 L809.82,850.01 L812.02,851.56 L814.21,853.13 L816.39,854.71 L818.56,856.31 L820.71,857.93 L822.85,859.56 L824.98,861.21 L827.09,862.87 L829.20,864.55 L831.28,866.25 L833.36,867.96 L835.42,869.69 L837.47,871.43 L839.50,873.19 L841.52,874.96 L843.53,876.75 L845.52,878.56 L847.50,880.38 L849.46,882.21 L851.41,884.06 L853.34,885.92 L855.26,887.80 L857.16,889.69 L859.05,891.60 L860.93,893.52 L862.78,895.45 L864.63,897.40 L866.45,899.36 L868.26,901.34 L870.06,903.33 L871.84,905.33 L873.60,907.34 L875.35,909.37 L877.08,911.41 L878.79,913.47 L880.49,915.53 L882.17,917.61 L883.83,919.71 L885.48,921.81 L887.11,923.93 L888.72,926.05 L890.32,928.19 L891.90,930.34 L893.46,932.51 L895.00,934.68 L896.53,936.87 L898.03,939.07 L899.52,941.27 L901.00,943.49 L902.45,945.72 L903.89,947.96 L905.30,950.21 L906.70,952.47 L908.09,954.74 L909.45,957.02 L910.79,959.31 L912.12,961.61 L913.43,963.92 L914.71,966.24 L915.98,968.57 L917.23,970.90 L918.47,973.25 L919.68,975.60 L920.87,977.97 L922.04,980.34 L923.20,982.72 L924.33,985.10 L925.45,987.50 L926.55,989.90 L927.62,992.31 L928.68,994.73 L929.71,997.15 L930.73,999.58 L931.73,1002.02 L932.71,1004.47 L933.66,1006.92 L934.60,1009.38 L935.52,1011.84 L936.41,1014.31 L937.29,1016.79 L938.14,1019.27 L938.98,1021.76 L939.79,1024.25 L940.59,1026.75 L941.36,1029.25 L942.11,1031.75 L942.85,1034.27 L943.56,1036.78 L944.25,1039.30 L944.92,1041.82 L945.57,1044.35 L946.20,1046.88 L946.81,1049.42 L947.39,1051.95 L947.96,1054.49 L948.50,1057.04 L949.03,1059.58 L949.53,1062.13 L950.01,1064.68 L950.47,1067.23 L950.91,1069.78 L951.33,1072.34 L951.72,1074.89 L952.10,1077.45 L952.45,1080.00 L952.78,1082.56 L953.09,1085.11 L953.38,1087.67 L953.65,1090.22 L953.90,1092.78 L954.13,1095.33 L954.33,1097.88 L954.51,1100.42 L954.67,1102.97 L954.81,1105.50 L954.93,1108.04 L955.03,1110.56 L955.10,1113.08 L955.16,1115.58 L955.19,1118.07 L955.20,1120.50" fill="none" stroke="#464644" stroke-width="5" stroke-linejoin="round"/><path d="M302.14,975.52 L280.25,984.16 L280.88,986.06 L303.59,979.88 Z" fill="#464644"/><path d="M300.68,978.43 L309.32,1000.32 L311.22,999.69 L305.04,976.97 Z" fill="#464644"/><circle cx="302.86" cy="977.70" r="2.6" fill="#464644"/><path d="M468.80,816.80 L446.30,809.87 L445.61,811.75 L467.20,821.12 Z" fill="#464644"/><path d="M465.84,818.16 L458.92,840.65 L460.79,841.35 L470.16,819.76 Z" fill="#464644"/><circle cx="468.00" cy="818.96" r="2.6" fill="#464644"/><path d="M766.68,822.47 L757.92,800.62 L756.03,801.26 L762.32,823.94 Z" fill="#464644"/><path d="M763.76,821.03 L741.92,829.79 L742.56,831.68 L765.24,825.39 Z" fill="#464644"/><circle cx="764.50" cy="823.21" r="2.6" fill="#464644"/><path d="M933.80,1002.80 L941.77,980.65 L939.93,979.87 L929.56,1001.00 Z" fill="#464644"/><path d="M932.58,999.78 L910.43,991.81 L909.65,993.65 L930.78,1004.02 Z" fill="#464644"/><circle cx="931.68" cy="1001.90" r="2.6" fill="#464644"/>
<linearGradient id="bg2011010" x1="0" y1="0" x2="0" y2="1"><stop offset="0" stop-color="#a6d84a" stop-opacity="0.75"/><stop offset="0.55" stop-color="#a6d84a" stop-opacity="0.5625"/><stop offset="1" stop-color="#a6d84a" stop-opacity="0"/></linearGradient><path d="M175,1055.3 L244,1055.3 L258,1117.3 L161,1117.3 Z" fill="url(#bg2011010)" filter="url(#soft)"/><path d="M196.5,1054.8 A11.7,4.6 0 0 0 220,1054.8" fill="none" stroke="#4f8418" stroke-width="1.4"/><rect x="202.3" y="1011.5999999999999" width="14.4" height="22.7" fill="#f3f3f5" stroke="#141414" stroke-width="2.6"/><path d="M175.5,1053.8 A34,18.4 0 0 1 243.5,1053.8 Z" fill="#f3f3f5" stroke="#141414" stroke-width="2.8" stroke-linejoin="miter"/><path d="M174,1053.8999999999999 H245" stroke="#141414" stroke-width="3.2"/>
<linearGradient id="bg312826" x1="0" y1="0" x2="0" y2="1"><stop offset="0" stop-color="#c8c630" stop-opacity="0.85"/><stop offset="0.55" stop-color="#c8c630" stop-opacity="0.6375"/><stop offset="1" stop-color="#c8c630" stop-opacity="0"/></linearGradient><path d="M286,871.3 L355,871.3 L368,943.3 L273,943.3 Z" fill="url(#bg312826)" filter="url(#soft)"/><path d="M307.5,870.8 A11.7,4.6 0 0 0 331,870.8" fill="none" stroke="#7a8a18" stroke-width="1.4"/><rect x="313.3" y="827.5999999999999" width="14.4" height="22.7" fill="#f3f3f5" stroke="#141414" stroke-width="2.6"/><path d="M286.5,869.8 A34,18.4 0 0 1 354.5,869.8 Z" fill="#f3f3f5" stroke="#141414" stroke-width="2.8" stroke-linejoin="miter"/><path d="M285,869.9 H356" stroke="#141414" stroke-width="3.2"/>
<linearGradient id="bg601704" x1="0" y1="0" x2="0" y2="1"><stop offset="0" stop-color="#e7c40f" stop-opacity="0.95"/><stop offset="0.55" stop-color="#e7c40f" stop-opacity="0.7124999999999999"/><stop offset="1" stop-color="#e7c40f" stop-opacity="0"/></linearGradient><path d="M575,749.3 L644,749.3 L657,821.3 L562,821.3 Z" fill="url(#bg601704)" filter="url(#soft)"/><path d="M596.5,748.8 A11.7,4.6 0 0 0 620,748.8" fill="none" stroke="#a88a10" stroke-width="1.4"/><rect x="602.3" y="705.5999999999999" width="14.4" height="22.7" fill="#f3f3f5" stroke="#141414" stroke-width="2.6"/><path d="M575.5,747.8 A34,18.4 0 0 1 643.5,747.8 Z" fill="#f3f3f5" stroke="#141414" stroke-width="2.8" stroke-linejoin="miter"/><path d="M574,747.9 H645" stroke="#141414" stroke-width="3.2"/>
<linearGradient id="bg884826" x1="0" y1="0" x2="0" y2="1"><stop offset="0" stop-color="#c8c630" stop-opacity="0.85"/><stop offset="0.55" stop-color="#c8c630" stop-opacity="0.6375"/><stop offset="1" stop-color="#c8c630" stop-opacity="0"/></linearGradient><path d="M858,871.3 L927,871.3 L940,943.3 L845,943.3 Z" fill="url(#bg884826)" filter="url(#soft)"/><path d="M879.5,870.8 A11.7,4.6 0 0 0 903,870.8" fill="none" stroke="#7a8a18" stroke-width="1.4"/><rect x="885.3" y="827.5999999999999" width="14.4" height="22.7" fill="#f3f3f5" stroke="#141414" stroke-width="2.6"/><path d="M858.5,869.8 A34,18.4 0 0 1 926.5,869.8 Z" fill="#f3f3f5" stroke="#141414" stroke-width="2.8" stroke-linejoin="miter"/><path d="M857,869.9 H928" stroke="#141414" stroke-width="3.2"/>
<linearGradient id="bg9941010" x1="0" y1="0" x2="0" y2="1"><stop offset="0" stop-color="#a6d84a" stop-opacity="0.75"/><stop offset="0.55" stop-color="#a6d84a" stop-opacity="0.5625"/><stop offset="1" stop-color="#a6d84a" stop-opacity="0"/></linearGradient><path d="M968,1055.3 L1037,1055.3 L1051,1117.3 L954,1117.3 Z" fill="url(#bg9941010)" filter="url(#soft)"/><path d="M989.5,1054.8 A11.7,4.6 0 0 0 1013,1054.8" fill="none" stroke="#4f8418" stroke-width="1.4"/><rect x="995.3" y="1011.5999999999999" width="14.4" height="22.7" fill="#f3f3f5" stroke="#141414" stroke-width="2.6"/><path d="M968.5,1053.8 A34,18.4 0 0 1 1036.5,1053.8 Z" fill="#f3f3f5" stroke="#141414" stroke-width="2.8" stroke-linejoin="miter"/><path d="M967,1053.8999999999999 H1038" stroke="#141414" stroke-width="3.2"/>
<g opacity="0.38"><path d="M268.40,1120.50 L268.41,1118.07 L268.44,1115.58 L268.50,1113.08 L268.57,1110.56 L268.67,1108.04 L268.79,1105.50 L268.93,1102.97 L269.09,1100.42 L269.27,1097.88 L269.47,1095.33 L269.70,1092.78 L269.95,1090.22 L270.22,1087.67 L270.51,1085.11 L270.82,1082.56 L271.15,1080.00 L271.50,1077.45 L271.88,1074.89 L272.27,1072.34 L272.69,1069.78 L273.13,1067.23 L273.59,1064.68 L274.07,1062.13 L274.57,1059.58 L275.10,1057.04 L275.64,1054.49 L276.21,1051.95 L276.79,1049.42 L277.40,1046.88 L278.03,1044.35 L278.68,1041.82 L279.35,1039.30 L280.04,1036.78 L280.75,1034.27 L281.49,1031.75 L282.24,1029.25 L283.01,1026.75 L283.81,1024.25 L284.62,1021.76 L285.46,1019.27 L286.31,1016.79 L287.19,1014.31 L288.08,1011.84 L289.00,1009.38 L289.94,1006.92 L290.89,1004.47 L291.87,1002.02 L292.87,999.58 L293.89,997.15 L294.92,994.73 L295.98,992.31 L297.05,989.90 L298.15,987.50 L299.27,985.10 L300.40,982.72 L301.56,980.34 L302.73,977.97 L303.92,975.60 L305.13,973.25 L306.37,970.90 L307.62,968.57 L308.89,966.24 L310.17,963.92 L311.48,961.61 L312.81,959.31 L314.15,957.02 L315.51,954.74 L316.90,952.47 L318.30,950.21 L319.71,947.96 L321.15,945.72 L322.60,943.49 L324.08,941.27 L325.57,939.07 L327.07,936.87 L328.60,934.68 L330.14,932.51 L331.70,930.34 L333.28,928.19 L334.88,926.05 L336.49,923.93 L338.12,921.81 L339.77,919.71 L341.43,917.61 L343.11,915.53 L344.81,913.47 L346.52,911.41 L348.25,909.37 L350.00,907.34 L351.76,905.33 L353.54,903.33 L355.34,901.34 L357.15,899.36 L358.97,897.40 L360.82,895.45 L362.67,893.52 L364.55,891.60 L366.44,889.69 L368.34,887.80 L370.26,885.92 L372.19,884.06 L374.14,882.21 L376.10,880.38 L378.08,878.56 L380.07,876.75 L382.08,874.96 L384.10,873.19 L386.13,871.43 L388.18,869.69 L390.24,867.96 L392.32,866.25 L394.40,864.55 L396.51,862.87 L398.62,861.21 L400.75,859.56 L402.89,857.93 L405.04,856.31 L407.21,854.71 L409.39,853.13 L411.58,851.56 L413.78,850.01 L416.00,848.48 L418.23,846.96 L420.47,845.46 L422.72,843.98 L424.98,842.52 L427.25,841.07 L429.54,839.64 L431.83,838.23 L434.14,836.83 L436.46,835.46 L438.78,834.10 L441.12,832.76 L443.47,831.43 L445.83,830.13 L448.20,828.84 L450.57,827.57 L452.96,826.32 L455.36,825.09 L457.76,823.87 L460.18,822.68 L462.60,821.50 L465.03,820.34 L467.48,819.20 L469.93,818.08 L472.38,816.98 L474.85,815.89 L477.32,814.83 L479.81,813.78 L482.29,812.76 L484.79,811.75 L487.30,810.76 L489.81,809.80 L492.32,808.85 L494.85,807.92 L497.38,807.01 L499.92,806.12 L502.46,805.25 L505.01,804.40 L507.56,803.56 L510.13,802.75 L512.69,801.96 L515.26,801.19 L517.84,800.44 L520.42,799.71 L523.01,799.00 L525.60,798.31 L528.19,797.63 L530.79,796.98 L533.39,796.35 L536.00,795.74 L538.61,795.15 L541.22,794.58 L543.83,794.03 L546.45,793.50 L549.07,793.00 L551.70,792.51 L554.32,792.04 L556.95,791.59 L559.58,791.17 L562.21,790.76 L564.84,790.38 L567.47,790.01 L570.10,789.67 L572.73,789.35 L575.36,789.04 L578.00,788.76 L580.63,788.50 L583.25,788.26 L585.88,788.04 L588.51,787.85 L591.13,787.67 L593.75,787.51 L596.36,787.38 L598.97,787.26 L601.57,787.17 L604.16,787.09 L606.74,787.04 L609.29,787.01 L611.80,787.00 L614.31,787.01 L616.86,787.04 L619.44,787.09 L622.03,787.17 L624.63,787.26 L627.24,787.38 L629.85,787.51 L632.47,787.67 L635.09,787.85 L637.72,788.04 L640.35,788.26 L642.97,788.50 L645.60,788.76 L648.24,789.04 L650.87,789.35 L653.50,789.67 L656.13,790.01 L658.76,790.38 L661.39,790.76 L664.02,791.17 L666.65,791.59 L669.28,792.04 L671.90,792.51 L674.53,793.00 L677.15,793.50 L679.77,794.03 L682.38,794.58 L684.99,795.15 L687.60,795.74 L690.21,796.35 L692.81,796.98 L695.41,797.63 L698.00,798.31 L700.59,799.00 L703.18,799.71 L705.76,800.44 L708.34,801.19 L710.91,801.96 L713.47,802.75 L716.04,803.56 L718.59,804.40 L721.14,805.25 L723.68,806.12 L726.22,807.01 L728.75,807.92 L731.28,808.85 L733.79,809.80 L736.30,810.76 L738.81,811.75 L741.31,812.76 L743.79,813.78 L746.28,814.83 L748.75,815.89 L751.22,816.98 L753.67,818.08 L756.12,819.20 L758.57,820.34 L761.00,821.50 L763.42,822.68 L765.84,823.87 L768.24,825.09 L770.64,826.32 L773.03,827.57 L775.40,828.84 L777.77,830.13 L780.13,831.43 L782.48,832.76 L784.82,834.10 L787.14,835.46 L789.46,836.83 L791.77,838.23 L794.06,839.64 L796.35,841.07 L798.62,842.52 L800.88,843.98 L803.13,845.46 L805.37,846.96 L807.60,848.48 L809.82,850.01 L812.02,851.56 L814.21,853.13 L816.39,854.71 L818.56,856.31 L820.71,857.93 L822.85,859.56 L824.98,861.21 L827.09,862.87 L829.20,864.55 L831.28,866.25 L833.36,867.96 L835.42,869.69 L837.47,871.43 L839.50,873.19 L841.52,874.96 L843.53,876.75 L845.52,878.56 L847.50,880.38 L849.46,882.21 L851.41,884.06 L853.34,885.92 L855.26,887.80 L857.16,889.69 L859.05,891.60 L860.93,893.52 L862.78,895.45 L864.63,897.40 L866.45,899.36 L868.26,901.34 L870.06,903.33 L871.84,905.33 L873.60,907.34 L875.35,909.37 L877.08,911.41 L878.79,913.47 L880.49,915.53 L882.17,917.61 L883.83,919.71 L885.48,921.81 L887.11,923.93 L888.72,926.05 L890.32,928.19 L891.90,930.34 L893.46,932.51 L895.00,934.68 L896.53,936.87 L898.03,939.07 L899.52,941.27 L901.00,943.49 L902.45,945.72 L903.89,947.96 L905.30,950.21 L906.70,952.47 L908.09,954.74 L909.45,957.02 L910.79,959.31 L912.12,961.61 L913.43,963.92 L914.71,966.24 L915.98,968.57 L917.23,970.90 L918.47,973.25 L919.68,975.60 L920.87,977.97 L922.04,980.34 L923.20,982.72 L924.33,985.10 L925.45,987.50 L926.55,989.90 L927.62,992.31 L928.68,994.73 L929.71,997.15 L930.73,999.58 L931.73,1002.02 L932.71,1004.47 L933.66,1006.92 L934.60,1009.38 L935.52,1011.84 L936.41,1014.31 L937.29,1016.79 L938.14,1019.27 L938.98,1021.76 L939.79,1024.25 L940.59,1026.75 L941.36,1029.25 L942.11,1031.75 L942.85,1034.27 L943.56,1036.78 L944.25,1039.30 L944.92,1041.82 L945.57,1044.35 L946.20,1046.88 L946.81,1049.42 L947.39,1051.95 L947.96,1054.49 L948.50,1057.04 L949.03,1059.58 L949.53,1062.13 L950.01,1064.68 L950.47,1067.23 L950.91,1069.78 L951.33,1072.34 L951.72,1074.89 L952.10,1077.45 L952.45,1080.00 L952.78,1082.56 L953.09,1085.11 L953.38,1087.67 L953.65,1090.22 L953.90,1092.78 L954.13,1095.33 L954.33,1097.88 L954.51,1100.42 L954.67,1102.97 L954.81,1105.50 L954.93,1108.04 L955.03,1110.56 L955.10,1113.08 L955.16,1115.58 L955.19,1118.07 L955.20,1120.50" fill="none" stroke="#464644" stroke-width="5" stroke-linejoin="round"/><path d="M302.14,975.52 L280.25,984.16 L280.88,986.06 L303.59,979.88 Z" fill="#464644"/><path d="M300.68,978.43 L309.32,1000.32 L311.22,999.69 L305.04,976.97 Z" fill="#464644"/><circle cx="302.86" cy="977.70" r="2.6" fill="#464644"/><path d="M468.80,816.80 L446.30,809.87 L445.61,811.75 L467.20,821.12 Z" fill="#464644"/><path d="M465.84,818.16 L458.92,840.65 L460.79,841.35 L470.16,819.76 Z" fill="#464644"/><circle cx="468.00" cy="818.96" r="2.6" fill="#464644"/><path d="M766.68,822.47 L757.92,800.62 L756.03,801.26 L762.32,823.94 Z" fill="#464644"/><path d="M763.76,821.03 L741.92,829.79 L742.56,831.68 L765.24,825.39 Z" fill="#464644"/><circle cx="764.50" cy="823.21" r="2.6" fill="#464644"/><path d="M933.80,1002.80 L941.77,980.65 L939.93,979.87 L929.56,1001.00 Z" fill="#464644"/><path d="M932.58,999.78 L910.43,991.81 L909.65,993.65 L930.78,1004.02 Z" fill="#464644"/><circle cx="931.68" cy="1001.90" r="2.6" fill="#464644"/></g>
<linearGradient id="plg" x1="0" y1="0" x2="0" y2="1"><stop offset="0" stop-color="#d4e41c"/><stop offset="0.45" stop-color="#b8dc34" stop-opacity="0.85"/><stop offset="1" stop-color="#9ad450" stop-opacity="0"/></linearGradient>
<path d="M569,947 L647,947 L668,1060 L548,1060 Z" fill="url(#plg)" filter="url(#soft)"/>
<g transform="translate(537,983) scale(0.13333)" stroke="#2a221d" stroke-width="25" stroke-linejoin="round" stroke-linecap="round"><path d="M225,190 C205,290 225,400 320,500 L520,720 C490,540 440,380 400,300 C350,235 285,205 225,190 Z" fill="#6cb46b"/><path d="M250,225 L370,480" fill="none"/><g transform="translate(1070,0) scale(-1,1)"><path d="M225,190 C205,290 225,400 320,500 L520,720 C490,540 440,380 400,300 C350,235 285,205 225,190 Z" fill="#6cb46b"/><path d="M250,225 L370,480" fill="none"/></g><path d="M535,85 C440,185 385,320 390,450 C395,580 470,680 535,740 C600,680 675,580 680,450 C685,320 630,185 535,85 Z" fill="#6ab36a"/><path d="M535,120 L535,740" fill="none"/><path d="M125,375 C115,490 160,610 280,690 C350,735 440,748 525,742 C480,620 420,540 330,480 C260,430 185,395 125,375 Z" fill="#68b168"/><path d="M165,425 C270,520 420,600 500,715" fill="none"/><path d="M945,375 C955,490 910,610 790,690 C720,735 630,748 545,742 C590,620 650,540 740,480 C810,430 885,395 945,375 Z" fill="#68b168"/><path d="M830,545 C740,590 640,650 590,715" fill="none"/><circle cx="893" cy="452" r="10" fill="#2a221d" stroke="none"/><path d="M266,812 L268,836 L305,1030 C315,1090 340,1124 400,1124 L690,1124 C750,1124 775,1090 785,1030 L806,836 L808,812 Z" fill="#f5b873" stroke="none"/><path d="M690,845 L800,845 L780,1030 C772,1080 752,1108 700,1112 C730,1000 720,900 690,845 Z" fill="#eea253" stroke="none" opacity="0.9"/><path d="M268,836 L305,1030 C315,1090 340,1124 400,1124 L690,1124 C750,1124 775,1090 785,1030 L806,836" fill="none"/><rect x="226" y="763" width="636" height="73" rx="36.5" ry="36.5" fill="#f0a458" stroke="none"/><path d="M345,836 H262.5 A36.5,36.5 0 0 1 262.5,763 H825.5 A36.5,36.5 0 0 1 825.5,836 H455" fill="none"/></g>
<g stroke="#3a5a18" stroke-width="1.1" stroke-dasharray="11 5" opacity="0.85"><path d="M568.3,954 L552,1004"/><path d="M581.7,954 L570.2,1000"/><path d="M597,959 L591.3,1000"/><path d="M619,957 L625.8,1004"/><path d="M633.4,954 L642,1002"/><path d="M646.9,952 L660.3,1004"/></g>
<rect x="605.5" y="946" width="5" height="50" fill="#c8d830" stroke="#3a3020" stroke-width="1.2"/>
<path d="M569.5,945 A38.5,18.6 0 0 1 646.5,945 Z" fill="#f3f3f5" stroke="#141414" stroke-width="2.8"/>
<path d="M567,945.5 H649" stroke="#141414" stroke-width="3.2"/>
<text x="46.56" y="1172.6" font-family='"Liberation Sans", sans-serif' font-size="39.5" fill="#fbfdf6" stroke="#fbfdf6" stroke-width="0.6" textLength="195.65" lengthAdjust="spacingAndGlyphs">Necgemlex</text><text x="248.98" y="1172.6" font-family='"Liberation Sans", sans-serif' font-size="39.5" fill="#fbfdf6" stroke="#fbfdf6" stroke-width="0.6" textLength="85.82" lengthAdjust="spacingAndGlyphs">bring</text><text x="344.00" y="1172.6" font-family='"Liberation Sans", sans-serif' font-size="39.5" fill="#fbfdf6" stroke="#fbfdf6" stroke-width="0.6" textLength="63.46" lengthAdjust="spacingAndGlyphs">the</text><text x="416.95" y="1172.6" font-family='"Liberation Sans", sans-serif' font-size="39.5" fill="#fbfdf6" stroke="#fbfdf6" stroke-width="0.6" textLength="62.45" lengthAdjust="spacingAndGlyphs">real</text><text x="487.53" y="1172.6" font-family='"Liberation Sans", sans-serif' font-size="39.5" fill="#fbfdf6" stroke="#fbfdf6" stroke-width="0.6" textLength="154.03" lengthAdjust="spacingAndGlyphs">sunshine</text><text x="649.49" y="1172.6" font-family='"Liberation Sans", sans-serif' font-size="39.5" fill="#fbfdf6" stroke="#fbfdf6" stroke-width="0.6" textLength="120.65" lengthAdjust="spacingAndGlyphs">indoor.</text>
</svg></body></html>
